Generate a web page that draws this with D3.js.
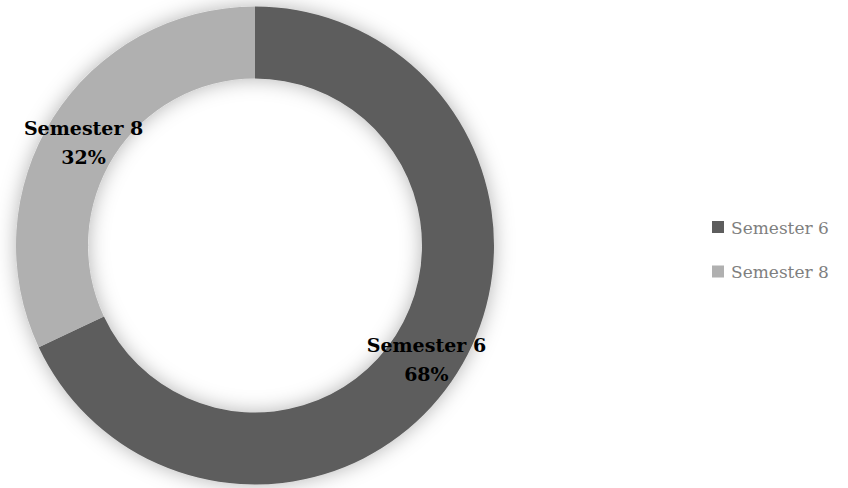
<!DOCTYPE html>
<html><head><meta charset="utf-8">
<script src="https://cdn.jsdelivr.net/npm/d3@7"></script>
<style>body{margin:0;background:#fff}svg{display:block}</style>
</head><body>
<script>
const categories = ["Semester 6", "Semester 8"];
const values = [68, 32];
const colors = ["#5d5d5d", "#b0b0b0"];

const W = 848, H = 488;
const cx = 255, cy = 245.5, R = 239, r = 167;
const svg = d3.select("body").append("svg").attr("width", W).attr("height", H);

const defs = svg.append("defs");
const f = defs.append("filter").attr("id", "glow").attr("x", "-20%").attr("y", "-20%").attr("width", "140%").attr("height", "140%");
f.append("feGaussianBlur").attr("in", "SourceAlpha").attr("stdDeviation", 10).attr("result", "b");
f.append("feFlood").attr("flood-color", "#000").attr("flood-opacity", 0.3);
f.append("feComposite").attr("in2", "b").attr("operator", "in").attr("result", "s");
const m = f.append("feMerge");
m.append("feMergeNode").attr("in", "s");
m.append("feMergeNode").attr("in", "SourceGraphic");

const pie = d3.pie().sort(null).value(d => d)(values);
const arc = d3.arc().innerRadius(r).outerRadius(R);
const g = svg.append("g").attr("transform", `translate(${cx},${cy})`).attr("filter", "url(#glow)");
g.selectAll("path").data(pie).join("path").attr("d", arc).attr("fill", (d, i) => colors[i]);

const labelArc = d3.arc().innerRadius((r + R) / 2).outerRadius((r + R) / 2);
const total = d3.sum(values);
const lg = svg.append("g").attr("transform", `translate(${cx},${cy})`);
pie.forEach((d, i) => {
  const [x, y] = labelArc.centroid(d);
  const t = lg.append("text").attr("text-anchor", "middle")
    .attr("font-family", "DejaVu Serif").attr("font-weight", "bold").attr("font-size", 19).attr("fill", "#000");
  t.append("tspan").attr("x", x).attr("y", y - 2).text(categories[i]);
  t.append("tspan").attr("x", x).attr("y", y + 27).text(Math.round(values[i] / total * 100) + "%");
});

const leg = svg.append("g").attr("transform", "translate(712,221)");
categories.forEach((c, i) => {
  const row = leg.append("g").attr("transform", `translate(0,${i * 44.5})`);
  row.append("rect").attr("width", 12).attr("height", 12).attr("fill", colors[i]);
  row.append("text").attr("x", 19).attr("y", 12.5).attr("font-family", "DejaVu Serif")
    .attr("font-size", 17).attr("fill", "#7f7f7f").text(c);
});
</script>
</body></html>
